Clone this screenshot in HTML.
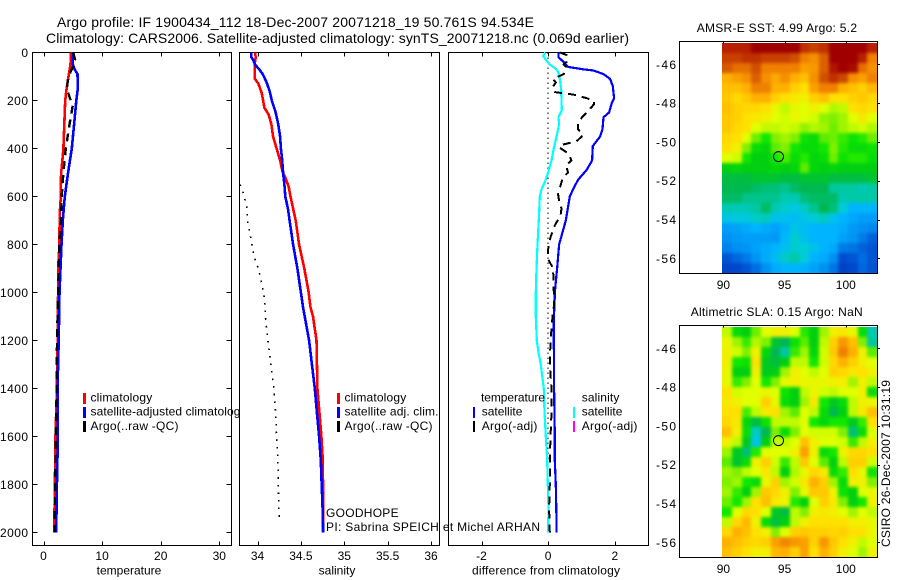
<!DOCTYPE html>
<html>
<head>
<meta charset="utf-8">
<title>Argo profile</title>
<style>
html,body{margin:0;padding:0;background:#fff;}
svg{display:block;}
text{font-family:"Liberation Sans",sans-serif;font-size:12px;fill:#000;}
.frame{fill:#fff;stroke:#000;stroke-width:1;shape-rendering:crispEdges;}
.frame-top{fill:none;stroke:#000;stroke-width:1;shape-rendering:crispEdges;}
.title{font-size:14px;}
</style>
</head>
<body>
<svg id="chart" xmlns="http://www.w3.org/2000/svg" width="900" height="580" viewBox="0 0 900 580">
  <defs>
    <filter id="soften" color-interpolation-filters="sRGB"><feGaussianBlur stdDeviation="1.6"/></filter>
    <clipPath id="clip-sst"><rect x="722" y="43" width="155" height="230"/></clipPath>
    <clipPath id="clip-sla"><rect x="722" y="327" width="155" height="230"/></clipPath>
  </defs>
  <text class="title" x="57" y="27" textLength="477">Argo profile: IF 1900434_112 18-Dec-2007 20071218_19 50.761S 94.534E</text>
  <text class="title" x="46" y="43" textLength="583">Climatology: CARS2006. Satellite-adjusted climatology: synTS_20071218.nc (0.069d earlier)</text>

  <g id="panel-t">
    <rect class="frame" x="32.5" y="52.5" width="199" height="493"/>
    <g id="marks-t"></g>
    <g>
      <rect x="83" y="393" width="3" height="11" fill="#f00" shape-rendering="crispEdges"/>
      <text x="90.5" y="401.7" textLength="61.7">climatology</text>
      <rect x="83" y="407" width="3" height="11" fill="#00f" shape-rendering="crispEdges"/>
      <text x="90.5" y="415.7" textLength="156">satellite-adjusted climatology</text>
      <rect x="83" y="421" width="3" height="11" fill="#000" shape-rendering="crispEdges"/>
      <text x="90.5" y="430" textLength="88">Argo(..raw -QC)</text>
    </g>
    <text x="129" y="574.7" text-anchor="middle">temperature</text>
  </g>

  <g id="panel-s">
    <rect class="frame" x="239.5" y="52.5" width="200" height="493"/>
    <g id="marks-s"></g>
    <g>
      <rect x="337" y="393" width="3" height="11" fill="#f00" shape-rendering="crispEdges"/>
      <text x="344.5" y="401.7" textLength="61.7">climatology</text>
      <rect x="337" y="407" width="3" height="11" fill="#00f" shape-rendering="crispEdges"/>
      <text x="344.5" y="415.7" textLength="94">satellite adj. clim.</text>
      <rect x="337" y="421" width="3" height="11" fill="#000" shape-rendering="crispEdges"/>
      <text x="344.5" y="430" textLength="88">Argo(..raw -QC)</text>
    </g>
    <text x="337" y="574.7" text-anchor="middle">salinity</text>
  </g>

  <g id="panel-d">
    <rect class="frame" x="448.5" y="52.5" width="200" height="493"/>
    <g id="marks-d"></g>
    <g>
      <text x="481" y="401.7" textLength="64">temperature</text>
      <rect x="473" y="407" width="2" height="11" fill="#00f" shape-rendering="crispEdges"/>
      <text x="481.7" y="415.7" textLength="40.7">satellite</text>
      <rect x="473" y="421" width="2" height="11" fill="#000" shape-rendering="crispEdges"/>
      <text x="481.7" y="430" textLength="55.7">Argo(-adj)</text>
      <text x="581.7" y="401.7" textLength="37.7">salinity</text>
      <rect x="573" y="407" width="2" height="11" fill="#0ff" shape-rendering="crispEdges"/>
      <text x="581.7" y="415.7" textLength="40.7">satellite</text>
      <rect x="573" y="421" width="2" height="11" fill="#f0f" shape-rendering="crispEdges"/>
      <text x="581.7" y="430" textLength="55.7">Argo(-adj)</text>
    </g>
    <text x="472" y="574.7" textLength="148">difference from climatology</text>
  </g>

  <text x="326" y="517" textLength="72.6">GOODHOPE</text>
  <text x="326" y="531" textLength="214">PI: Sabrina SPEICH et Michel ARHAN</text>

  <g id="panel-sst">
    <text x="696.7" y="32" textLength="160.3">AMSR-E SST: 4.99 Argo: 5.2</text>
    <rect class="frame" x="679.5" y="41.5" width="198" height="232"/>
    <g clip-path="url(#clip-sst)"><g id="cells-sst" filter="url(#soften)"></g></g>
    <rect class="frame-top" x="679.5" y="41.5" width="198" height="232"/>
    <g id="ticks-sst"></g>
    <circle id="float-sst" r="5" fill="none" stroke="#000" stroke-width="1"/>
  </g>

  <g id="panel-sla">
    <text x="690.7" y="316" textLength="172">Altimetric SLA: 0.15 Argo: NaN</text>
    <rect class="frame" x="679.5" y="325.5" width="198" height="232"/>
    <g clip-path="url(#clip-sla)"><g id="cells-sla" filter="url(#soften)"></g></g>
    <rect class="frame-top" x="679.5" y="325.5" width="198" height="232"/>
    <g id="ticks-sla"></g>
    <circle id="float-sla" r="5" fill="none" stroke="#000" stroke-width="1"/>
  </g>

  <text transform="translate(890,547) rotate(-90)" textLength="167">CSIRO 26-Dec-2007 10:31:19</text>
</svg>

<script>
// ---- axis tick labels ----
const depthTicks = [0, 200, 400, 600, 800, 1000, 1200, 1400, 1600, 1800, 2000];
const tempTicks = [0, 10, 20, 30];
const salTicks = [34, 34.5, 35, 35.5, 36];
const diffTicks = [-2, 0, 2];
const lonTicks = [90, 95, 100];
const latTicks = [-46, -48, -50, -52, -54, -56];

// ---- temperature panel ----
const tempClimDepth = [0, 50, 100, 150, 200, 300, 400, 480, 500, 600, 680, 800, 880, 1000, 1200, 1400, 1600, 1800, 2000];
const tempClimValue = [4.7, 4.6, 4.26, 3.95, 3.7, 3.55, 3.4, 3.1, 3.0, 2.96, 2.75, 2.73, 2.55, 2.5, 2.4, 2.28, 2.05, 1.94, 1.82];
const tempSatDepth = [0, 50, 70, 90, 150, 200, 300, 400, 500, 600, 700, 800, 1000, 1200, 1400, 1600, 1800, 2000];
const tempSatValue = [5.06, 5.0, 5.3, 5.8, 5.85, 5.6, 5.23, 4.83, 4.2, 3.64, 3.3, 3.07, 2.73, 2.6, 2.39, 2.45, 2.28, 2.16];
const tempArgoDepth = [0, 30, 60, 100, 150, 190, 220, 300, 400, 500, 600, 700, 800, 1000, 1200, 1400, 1600, 1800, 2000];
const tempArgoValue = [5.06, 5.4, 5.0, 4.26, 3.98, 4.5, 5.0, 4.43, 3.8, 3.4, 3.1, 3.0, 2.7, 2.5, 2.3, 2.25, 2.1, 2.0, 1.9];

// ---- salinity panel ----
const salClimDepth = [0, 20, 40, 110, 130, 170, 230, 260, 300, 350, 400, 450, 500, 520, 560, 600, 700, 800, 900, 1000, 1060, 1100, 1200, 1400, 1500, 1600, 1700, 1800, 2000];
const salClimValue = [33.97, 33.98, 33.97, 33.97, 34.01, 34.05, 34.08, 34.13, 34.16, 34.18, 34.22, 34.26, 34.29, 34.32, 34.36, 34.38, 34.44, 34.48, 34.54, 34.59, 34.61, 34.64, 34.68, 34.69, 34.714, 34.737, 34.753, 34.755, 34.755];
const salSatDepth = [0, 20, 30, 50, 70, 90, 120, 160, 200, 250, 300, 350, 400, 450, 500, 550, 600, 650, 700, 800, 900, 1000, 1060, 1200, 1400, 1500, 1600, 1700, 1800, 1900, 2000];
const salSatValue = [33.93, 33.93, 33.95, 33.97, 34.02, 34.06, 34.10, 34.14, 34.165, 34.21, 34.24, 34.26, 34.27, 34.285, 34.295, 34.31, 34.32, 34.35, 34.37, 34.41, 34.46, 34.5, 34.525, 34.595, 34.66, 34.685, 34.71, 34.73, 34.74, 34.75, 34.757];
const salArgoDepth = [550, 570, 590, 620, 650, 700, 750, 800, 850, 900, 950, 1000, 1060, 1100, 1200, 1384, 1500, 1600, 1700, 1800, 1950];
const salArgoValue = [33.80, 33.82, 33.84, 33.86, 33.88, 33.885, 33.91, 33.935, 33.96, 34.01, 34.04, 34.07, 34.09, 34.09, 34.12, 34.185, 34.21, 34.22, 34.235, 34.24, 34.25];

// ---- difference panel ----
const diffTempSatDepth = [0, 20, 35, 60, 70, 75, 90, 110, 140, 190, 210, 250, 270, 320, 350, 390, 450, 490, 530, 570, 600, 700, 800, 900, 1000, 1060, 1100, 1200, 1400, 1600, 1700, 1800, 1950, 2000];
const diffTempSatValue = [0.31, 0.31, 0.43, 0.6, 1.05, 1.36, 1.66, 1.86, 1.94, 1.98, 1.91, 1.83, 1.66, 1.63, 1.56, 1.34, 1.32, 1.15, 0.9, 0.75, 0.65, 0.53, 0.33, 0.27, 0.2, 0.19, 0.17, 0.17, 0.18, 0.2, 0.2, 0.23, 0.25, 0.25];
const diffSalSatDepth = [0, 15, 30, 50, 70, 90, 150, 240, 270, 300, 350, 400, 450, 500, 540, 570, 600, 700, 800, 900, 1000, 1100, 1200, 1250, 1300, 1400, 1500, 1600, 1700, 1800, 1900, 2000];
const diffSalSatValue = [-0.09, -0.15, -0.07, 0.05, 0.25, 0.33, 0.39, 0.41, 0.31, 0.33, 0.25, 0.17, 0.1, 0, -0.1, -0.2, -0.25, -0.28, -0.32, -0.35, -0.37, -0.37, -0.34, -0.29, -0.22, -0.13, -0.11, -0.07, -0.03, -0.01, 0.01, 0];
const diffTempArgoDepth = [0, 10, 25, 40, 50, 60, 75, 90, 110, 125, 145, 165, 170, 175, 190, 200, 215, 235, 265, 290, 320, 345, 370, 385, 395, 420, 450, 470, 500, 520, 540, 590, 620, 650, 680, 720, 770, 820, 860, 900, 1000, 1060, 1100, 1200, 1300, 1400, 1500, 1600, 1700, 1800, 1900, 2000];
const diffTempArgoValue = [0.35, 0.55, 0.59, 0.55, 0.47, 0.53, 0.53, 0.47, 0.15, 0.23, 0.13, 0.2, 0.45, 0.75, 1.15, 1.36, 1.38, 1.26, 1.05, 0.9, 0.9, 1.05, 0.85, 0.4, 0.33, 0.6, 0.7, 0.53, 0.6, 0.45, 0.4, 0.3, 0.33, 0.4, 0.37, 0.2, 0.07, 0, 0, 0.15, 0.17, 0.17, 0.13, 0.07, 0.05, 0.1, 0.1, 0.07, 0.05, 0.05, 0.03, 0.05];
const diffZeroDepth = [0, 2000];
const diffZeroValue = [0, 0];

// ---- maps: colour level per cell, north to south, west to east ----
const sstGrid = [
[9.4,9.4,9.4,10,10,10,10,10,9.2,9,9.2,10,10,10,10,9.4],
[9,9,9.2,9.2,9,9,9,8.8,8.2,8,8.6,10,10,10,9.4,8.2],
[8.7,8.4,8.4,8.8,8.2,8.2,8.2,8.2,7.8,7.9,8.6,9.6,10,9.8,8.4,8],
[7.6,7.8,8,8.6,8,7.7,8,7.6,7.4,8,8.8,9.2,8.9,8,7.8,8.2],
[7.4,7.4,7.6,8.2,8.2,7.6,7.6,7.2,7,7.8,8.2,8.2,7.6,7.4,7.2,7.5],
[7.3,7.1,7.3,7.6,7.6,7.2,7,6.9,6.8,7.2,7.4,7,7,7.2,7.3,7.1],
[7.4,7.2,7.1,7.1,7,6.7,6.4,6.7,6.6,6.8,6.6,6.3,6.4,7,7.1,7],
[7.3,7.2,7,6.9,6.8,6.6,6.5,6.7,6.6,6.5,6.1,6,6.2,6.6,6.9,6.6],
[7.3,7.1,7,6.6,6.4,6.4,6.5,6.4,6.1,6.3,6.2,5.9,6.2,6.4,6.5,6.3],
[7.1,7,6.6,5.9,5.4,6,6.2,6,5.3,5.2,5.8,5.9,5.6,5.3,5.5,5.9],
[7,6.8,6,5.2,5.1,5.8,6,5.4,5.2,5.2,5.4,6,5.5,5.2,5.2,5.3],
[6.6,6.5,5.4,5,5,5.4,5.7,5.2,5.5,5.1,5.2,5.9,5.3,5.5,5.5,5.2],
[5,5.1,5,5,5,5.1,5,5.1,5.8,5.1,5,5.1,5,5,5,5],
[4.7,4.7,4.7,4.8,4.8,4.8,4.7,4.7,4.8,4.8,4.8,4.7,4.7,4.7,4.7,4.8],
[4.6,4.6,4.6,4.5,4.4,4.4,4.3,4.5,4.6,4.6,4.6,4.2,4.2,4.2,4,4.1],
[4.5,4.5,4.3,4.3,4.3,4.3,4,4,4.4,4.5,4.5,4.5,4,4.1,4.1,4.1],
[4,4,4,4.2,4.5,4,3.7,3.5,3.8,4.3,4.6,4.4,3.6,3,3.1,3],
[3.4,3.5,3.5,3.8,3.9,3.3,3.3,3.2,3.4,3.6,3.9,3.3,3,2.7,2.5,2.5],
[2.5,2.6,2.8,3,2.8,2.6,2.9,3.4,3.2,3,3,3,2.8,2.4,2.2,2],
[2.2,2.4,2.5,2.5,2.5,2.4,3.1,3.7,3.3,3,3,3,2.6,2.3,1.8,1.4],
[1.9,2.2,2.3,2.6,2.8,3,3.3,3.7,3.6,3.3,3,2.7,1.8,1.7,1.4,1.2],
[1.2,1.5,1.8,2.3,2.8,3.2,3.8,4.1,3.6,3,2.8,2.2,1.1,1.2,1.6,1.2],
[0.9,1,1.2,1.6,2.2,2.8,3,3,2.9,2.6,2.2,1.7,0.8,1,1.5,1.2]
];
const slaGrid = [
[6.4,5.2,5,5.9,6.6,6.8,6.8,6.6,5.5,5,6.2,6.8,6.9,6.7,5.2,4],
[6.7,6.2,5.6,6.3,6,4.8,4.6,5.3,5.8,5,6.4,7.2,7.9,7.4,6,4.2],
[6.8,6.5,6,6.8,5.1,4.6,4.2,5.6,6.2,5.1,6.5,7.3,8.2,7.6,6.8,5.8],
[6.8,5.4,5.3,7,4.9,4.7,5,6.4,6.4,5.4,6.5,7.1,7.6,7.2,6.8,6.6],
[6.7,5,5,6.8,4.9,5,6.2,6.8,6.6,6.4,6.6,7.2,7.1,6.9,7,6.8],
[6.7,5.6,6,6.6,5.4,6,6.7,6.8,6.7,6.7,6.7,6.8,6.8,6.2,6.8,6.4],
[7,6.5,6.6,6.6,6.7,6.6,5.3,5,6.4,6.7,6.5,6.4,6.6,6.6,6.8,5.2],
[6.9,6.8,6.6,6.6,7.2,6.7,5.2,5,6.2,6.9,5.4,4.9,5.2,6.4,6.8,6.7],
[7,7,5.7,6.4,6.9,7,6.2,5.8,6.6,6.4,5.2,4.6,5,6.4,6.9,7.4],
[7.1,6.9,5.1,4.7,5.3,6.4,6.4,6.4,6.6,5.4,5.1,5.4,5.4,4.9,5.6,7],
[7.4,6.8,5.2,3.8,4.6,6,5.2,6,6.6,6.5,6.5,6.5,6,4.4,5.2,6.6],
[6.8,6.4,4.9,3.4,5,6.4,6.4,6.6,7.4,6.8,6.6,6.6,6.5,5.6,6.4,6.8],
[6.2,4.9,4.4,5.5,6.6,6.6,6.6,6.8,7.8,6.8,5.2,5.4,6.8,7.1,7.1,7],
[5.8,4.8,5.2,6.8,7.2,6.5,5.6,6.4,7.3,6.6,5.8,5,6.4,7.2,7.2,6.5],
[6.2,6,6.4,6.6,6.9,6.4,5,6.3,6.7,7.1,6.9,5.2,5.6,7,6.7,5.3],
[6,6.2,5.4,5.2,6.7,7.2,6.2,6.5,6.9,7.6,7.2,6.2,5.2,6.8,6.8,6],
[6.2,5.6,5,6.2,7.3,7.1,6.8,6,6.7,7.3,7.3,6.8,5.3,5,6.6,6.7],
[5.9,5.4,6.2,7,7.4,6.9,6.8,5.5,5,6.6,7.2,6.9,6,5,5.4,6.8],
[5.4,6.6,7.1,7,6.6,4.9,4.7,6.4,6,6.8,6.9,6.8,6.6,6.2,6.6,6.4],
[6.4,7.1,7.5,6.8,5.2,4.7,5,6.4,6.8,7,7,7,7,6.8,6.8,6.7],
[7.1,7.6,7.4,7,6.8,6,6.6,7.2,7.3,7.2,7.2,7.1,7.2,7,7,6.7],
[7.6,7.4,7.2,7.1,7.2,7.8,8.1,7.9,7.8,7.2,7.9,7.3,7,6.8,6.4,6.6],
[7.4,7.2,7,6.8,6.8,7.5,7.6,7.2,7.8,7,7.6,7.2,6.8,6.6,6.2,6.8]
];
const floatLon = [94.5];
const floatLat = [-50.76];

// ---- helpers ----
const NS = 'http://www.w3.org/2000/svg';
function make(tag, attrs, parent) {
  const el = document.createElementNS(NS, tag);
  for (const k in attrs) el.setAttribute(k, attrs[k]);
  parent.appendChild(el);
  return el;
}
function linear(d0, d1, r0, r1) {
  return v => r0 + (v - d0) * (r1 - r0) / (d1 - d0);
}

// ---- profile axes ----
const depthY = linear(0, 2000, 52.5, 532.5);
const tempX = linear(0, 30, 43.5, 219.3);
const salX = linear(34, 36, 257.5, 431);
const diffX = linear(-2, 2, 481.5, 614.8);

function drawProfile(group, depths, values, xFn, color, width, dash, name) {
  const pts = depths.map((d, i) => xFn(values[i]).toFixed(1) + ',' + depthY(d).toFixed(1)).join(' ');
  const line = make('polyline', {points: pts, fill: 'none', stroke: color, 'stroke-width': width, 'stroke-dasharray': dash, 'shape-rendering': 'crispEdges'}, group);
  
  
}

function drawProfileAxes(panel, ticks, xFn, left, right, withDepth) {
  for (const t of ticks) {
    const x = Math.round(xFn(t)) + 0.5;
    const top = make('line', {x1: x, x2: x, y1: 52.5, y2: 56.5, stroke: '#000', 'shape-rendering': 'crispEdges'}, panel);
    
    
    const bottom = make('line', {x1: x, x2: x, y1: 545.5, y2: 541.5, stroke: '#000', 'shape-rendering': 'crispEdges'}, panel);
    
    
    const label = make('text', {x: xFn(t), y: 560, 'text-anchor': 'middle'}, panel);
    
    
    label.textContent = String(t);
  }
  if (!withDepth) return;
  for (const d of depthTicks) {
    const y = Math.round(depthY(d) - 0.5) + 0.5;
    const l = make('line', {x1: left, x2: left + 5, y1: y, y2: y, stroke: '#000', 'shape-rendering': 'crispEdges'}, panel);
    
    
    const r = make('line', {x1: right, x2: right - 5, y1: y, y2: y, stroke: '#000', 'shape-rendering': 'crispEdges'}, panel);
    
    
    const label = make('text', {x: 28, y: y + 4.5, 'text-anchor': 'end', textLength: String(d).length * 7}, panel);
    
    
    label.textContent = String(d);
  }
}

const panelT = document.getElementById('panel-t');
const panelS = document.getElementById('panel-s');
const panelD = document.getElementById('panel-d');
const marksT = document.getElementById('marks-t');
const marksS = document.getElementById('marks-s');
const marksD = document.getElementById('marks-d');

drawProfileAxes(panelT, tempTicks, tempX, 32.5, 231.5, true);
drawProfileAxes(panelS, salTicks, salX, 239.5, 439.5, false);
drawProfileAxes(panelD, diffTicks, diffX, 448.5, 648.5, false);

drawProfile(marksT, tempClimDepth, tempClimValue, tempX, '#f00', 2.6, 'none', 'temperature-climatology-line');
drawProfile(marksT, tempSatDepth, tempSatValue, tempX, '#00f', 2.6, 'none', 'temperature-satellite-line');
drawProfile(marksT, tempArgoDepth, tempArgoValue, tempX, '#000', 2.4, '8 6', 'temperature-argo-line');

drawProfile(marksS, salClimDepth, salClimValue, salX, '#f00', 2.6, 'none', 'salinity-climatology-line');
drawProfile(marksS, salSatDepth, salSatValue, salX, '#00f', 2.6, 'none', 'salinity-satellite-line');
drawProfile(marksS, salArgoDepth, salArgoValue, salX, '#000', 1.6, '1.6 6', 'salinity-argo-raw-line');

drawProfile(marksD, diffZeroDepth, diffZeroValue, diffX, '#000', 1.2, '1.5 3.5', 'zero-difference-line');
drawProfile(marksD, diffTempSatDepth, diffTempSatValue, diffX, '#00f', 2.2, 'none', 'temperature-satellite-difference-line');
drawProfile(marksD, diffSalSatDepth, diffSalSatValue, diffX, '#0ff', 2.2, 'none', 'salinity-satellite-difference-line');
drawProfile(marksD, diffTempArgoDepth, diffTempArgoValue, diffX, '#000', 2, '8 6', 'temperature-argo-difference-line');

// ---- map colour scale ----
const colourStops = [
  [0, '#0030b0'], [1, '#0048cc'], [2, '#0088f0'], [3, '#00b4ff'], [3.6, '#00ccd8'], [4.2, '#00c8a0'],
  [4.6, '#00b850'], [5, '#00d010'], [5.4, '#10e800'], [6, '#80f000'], [6.6, '#e0ff00'], [7, '#ffe000'],
  [7.6, '#ffb000'], [8.2, '#f08000'], [8.8, '#d05000'], [9.4, '#b82000'], [10, '#a00000']
];
function hexToRgb(h) {
  return [parseInt(h.slice(1, 3), 16), parseInt(h.slice(3, 5), 16), parseInt(h.slice(5, 7), 16)];
}
function colourFor(v) {
  for (let i = 1; i < colourStops.length; i++) {
    if (v <= colourStops[i][0]) {
      const a = colourStops[i - 1], b = colourStops[i];
      const t = Math.max(0, (v - a[0]) / (b[0] - a[0]));
      const ca = hexToRgb(a[1]), cb = hexToRgb(b[1]);
      return 'rgb(' + ca.map((c, k) => Math.round(c + (cb[k] - c) * t)).join(',') + ')';
    }
  }
  return colourStops[colourStops.length - 1][1];
}

// ---- maps ----
const lonX = linear(90, 100, 723.4, 845.8);
const lonStart = 89.9;
const latStart = -44.9;

function drawMap(cellsId, ticksId, floatId, grid, lat46Y, frameTop, frameBottom, labelY) {
  const latY = v => lat46Y + (-46 - v) * 19.4;
  const rows = grid.length;
  const cols = grid[0].length;
  const lonStep = (102.56 - lonStart) / cols;
  const latStep = (56.76 - 44.9) / rows;
  const cells = document.getElementById(cellsId);
  for (let r = 0; r < rows; r++) {
    for (let c = 0; c < cols; c++) {
      let x0 = Math.round(lonX(lonStart + c * lonStep));
      let x1 = Math.round(lonX(lonStart + (c + 1) * lonStep));
      let y0 = Math.round(latY(latStart - r * latStep));
      let y1 = Math.round(latY(latStart - (r + 1) * latStep));
      // edge cells run past the clip so softening does not fade at the map border
      if (c === 0) x0 -= 12;
      if (c === cols - 1) x1 += 12;
      if (r === 0) y0 -= 12;
      if (r === rows - 1) y1 += 12;
      const cell = make('rect', {x: x0, y: y0, width: x1 - x0, height: y1 - y0, fill: colourFor(grid[r][c]), 'shape-rendering': 'crispEdges'}, cells);
      
      
    }
  }
  const axes = document.getElementById(ticksId);
  for (const lon of lonTicks) {
    const x = Math.round(lonX(lon)) + 0.5;
    const tick = make('line', {x1: x, x2: x, y1: frameTop, y2: frameTop + 2, stroke: '#000', 'shape-rendering': 'crispEdges'}, axes);
    
    
    const label = make('text', {x: lonX(lon), y: labelY, 'text-anchor': 'middle'}, axes);
    
    
    label.textContent = String(lon);
  }
  for (const lat of latTicks) {
    const y = Math.round(latY(lat)) + 0.5;
    const tick = make('line', {x1: 877.5, x2: 880, y1: y, y2: y, stroke: '#000', 'shape-rendering': 'crispEdges'}, axes);
    
    
    const label = make('text', {x: 676, y: latY(lat) + 4.5, 'text-anchor': 'end', textLength: 20}, axes);
    
    
    label.textContent = String(lat);
  }
  const marker = document.getElementById(floatId);
  marker.setAttribute('cx', lonX(floatLon[0]).toFixed(1));
  marker.setAttribute('cy', latY(floatLat[0]).toFixed(1));
}

drawMap('cells-sst', 'ticks-sst', 'float-sst', sstGrid, 64.3, 41.5, 273.5, 289);
drawMap('cells-sla', 'ticks-sla', 'float-sla', slaGrid, 348.3, 325.5, 557.5, 573);
</script>
</body>
</html>
